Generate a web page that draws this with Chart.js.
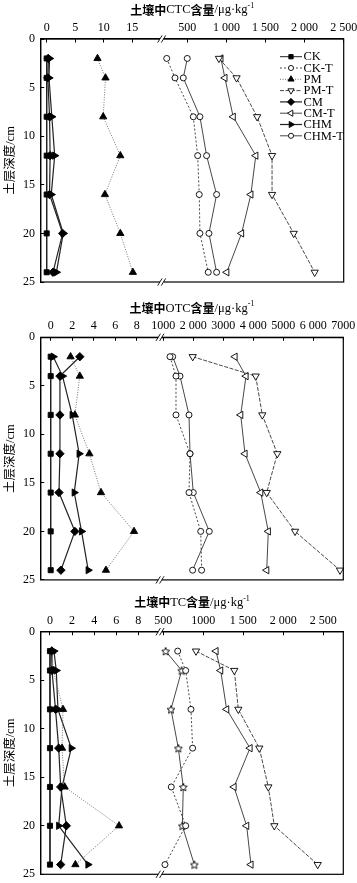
<!DOCTYPE html>
<html><head><meta charset="utf-8">
<script src="https://cdn.jsdelivr.net/npm/chart.js@4.4.0/dist/chart.umd.min.js"></script>
<style>
html,body{margin:0;padding:0;background:#fff;}
body{width:357px;height:883px;position:relative;overflow:hidden;}
canvas{position:absolute;left:0;}
</style></head><body>
<canvas id="c1" width="357" height="290" style="top:0px"></canvas>
<canvas id="c2" width="357" height="295" style="top:290px"></canvas>
<canvas id="c3" width="357" height="298" style="top:585px"></canvas>
<script>
// ---------------- data ----------------
const depths = [2, 4, 8, 12, 16, 20, 24];
const depthTicks = [0, 5, 10, 15, 20, 25];
const seriesNames = ['CK', 'CK-T', 'PM', 'PM-T', 'CM', 'CM-T', 'CHM', 'CHM-T'];

// 土壤中CTC含量
const ctcCK   = [0, 0, 0, 0, 0, 0, 0];
const ctcPM   = [8.9, 10.3, 9.9, 12.9, 10.2, 12.9, 15.1];
const ctcCM   = [0.3, 0.2, 0.5, 0.6, 0.5, 2.8, 1.1];
const ctcCHM  = [0.5, 0.4, 0.9, 1.4, 0.8, 2.9, 1.7];
const ctcCKT  = [237, 343, 577, 633, 653, 662, 768];
const ctcPMT  = [905, 1130, 1393, 1584, 1584, 1861, 2129];
const ctcCMT  = [930, 981, 1087, 1376, 1313, 1194, 1005];
const ctcCHMT = [500, 449, 662, 747, 875, 777, 875];
const ctcLeftTicks = [0, 5, 10, 15];
const ctcLeftLabels = ['0', '5', '10', '15'];
const ctcRightTicks = [500, 1000, 1500, 2000, 2500];
const ctcRightLabels = ['500', '1 000', '1 500', '2 000', '2 500'];

// 土壤中OTC含量
const otcCK   = [0, 0, 0, 0, 0, 0, 0];
const otcPM   = [1.85, 2.71, 2.25, 3.6, 4.68, 7.75, 5.14];
const otcCM   = [2.71, 0.86, 0.86, 0.86, 0.77, 2.25, 0.95];
const otcCHM  = [0.24, 1.1, 2.0, 2.65, 2.19, 2.87, 3.49];
const otcCKT  = [1223, 1423, 1423, 1890, 1857, 2247, 2277];
const otcPMT  = [1980, 4080, 4300, 4800, 4447, 5390, 6890];
const otcCMT  = [3390, 3757, 3580, 3723, 4247, 4500, 4447];
const otcCHMT = [1313, 1557, 1857, 1890, 2000, 2533, 1977];
const otcLeftTicks = [0, 2, 4, 6, 8];
const otcLeftLabels = ['0', '2', '4', '6', '8'];
const otcRightTicks = [1000, 2000, 3000, 4000, 5000, 6000, 7000];
const otcRightLabels = ['1000', '2 000', '3000', '4 000', '5000', '6 000', '7000'];

// 土壤中TC含量
const tcCK   = [0, 0, 0, 0, 0, 0, 0];
const tcPM   = [0.2, 0.3, 1.18, 1.09, 1.33, 6.25, 2.3];
const tcCM   = [0.15, 0.18, 0.5, 0.79, 0.97, 1.48, 0.97];
const tcCHM  = [0.36, 0.57, 0.72, 1.93, 1.09, 0.79, 3.44];
const tcCKT  = [680, 780, 846, 867, 600, 780, 521];
const tcPMT  = [909, 1388, 1438, 1700, 1813, 1888, 2430];
const tcCMT  = [1159, 1217, 1292, 1584, 1384, 1542, 1596];
const tcCHMT = [530, 730, 596, 688, 750, 738, 888];
const tcLeftTicks = [0, 2, 4, 6, 8];
const tcLeftLabels = ['0', '2', '4', '6', '8'];
const tcRightTicks = [500, 1000, 1500, 2000, 2500];
const tcRightLabels = ['500', '1000', '1 500', '2 000', '2 500'];

// ---------------- styles ----------------
const SERIF = '"Liberation Serif", "Times New Roman", serif';
const CJK = '"Noto Sans CJK SC", sans-serif';
const MIX = '"Liberation Serif", "Noto Sans CJK SC", serif';

function makeStar(r) {
  const s = Math.ceil(r * 2 + 3);
  const c = document.createElement('canvas');
  c.width = s; c.height = s;
  const g = c.getContext('2d');
  g.strokeStyle = '#000'; g.lineWidth = 0.9; g.fillStyle = '#fff';
  g.beginPath();
  for (let k = 0; k < 10; k++) {
    const rr = (k % 2) ? r * 0.45 : r;
    const ang = -Math.PI / 2 + k * Math.PI / 5;
    const px = s / 2 + rr * Math.cos(ang), py = s / 2 + 0.5 + rr * Math.sin(ang);
    if (k) g.lineTo(px, py); else g.moveTo(px, py);
  }
  g.closePath(); g.fill(); g.stroke();
  return c;
}
const starImg = makeStar(4.2);

const styles = {
  'CK':    {pointStyle: 'rect', radius: 3.6, fill: true, dash: [], width: 1.0, color: '#222'},
  'CK-T':  {pointStyle: 'circle', radius: 3, fill: false, dash: [2, 2], width: 0.9, color: '#333'},
  'PM':    {pointStyle: 'triangle', radius: 4.2, fill: true, dash: [1, 1.5], width: 0.9, color: '#666'},
  'PM-T':  {pointStyle: 'triangle', rotation: 180, radius: 4.2, fill: false, dash: [4, 1.5], width: 0.9, color: '#333'},
  'CM':    {pointStyle: 'rectRot', radius: 4.2, fill: true, dash: [], width: 1.2, color: '#222'},
  'CM-T':  {pointStyle: 'triangle', rotation: 270, radius: 4.2, fill: false, dash: [], width: 0.9, color: '#333'},
  'CHM':   {pointStyle: 'triangle', rotation: 90, radius: 4.2, fill: true, dash: [], width: 1.2, color: '#222'},
  'CHM-T': {pointStyle: 'circle', radius: 3, fill: false, dash: [], width: 0.9, color: '#333'}
};

function ds(name, vals, axis, override) {
  const s = Object.assign({}, styles[name], override || {});
  return {
    label: name,
    data: depths.map((d, i) => ({x: vals[i], y: d})),
    xAxisID: axis, yAxisID: 'y',
    borderColor: s.color, borderWidth: s.width, borderDash: s.dash,
    pointStyle: s.pointStyle, pointRotation: s.rotation || 0,
    pointRadius: s.radius, pointHoverRadius: s.radius,
    pointBackgroundColor: s.fill ? '#000' : '#fff',
    pointBorderColor: '#000', pointBorderWidth: 0.9,
    tension: 0, fill: false, clip: false
  };
}

// ---------------- decoration plugin ----------------
const decorPlugin = {
  id: 'decor',
  afterDraw(chart, args, opts) {
    const ctx = chart.ctx, a = chart.chartArea;
    ctx.save();
    ctx.setLineDash([]);
    ctx.strokeStyle = '#000';
    ctx.lineWidth = 1.2;
    ctx.strokeRect(a.left, a.top, a.right - a.left, a.bottom - a.top);
    // axis break marks
    const bx = chart.scales.xL.right;
    [a.top, a.bottom].forEach(y => {
      ctx.fillStyle = '#fff';
      ctx.fillRect(bx - 1.8, y - 1.5, 3.6, 3);
      ctx.lineWidth = 0.9;
      ctx.beginPath();
      [-1.8, 1.8].forEach(dx => {
        ctx.moveTo(bx + dx - 2.2, y + 3.6);
        ctx.lineTo(bx + dx + 2.2, y - 3.6);
      });
      ctx.stroke();
    });
    // x title
    const parts = opts.title || [];
    const fonts = {
      cjk: 'bold 12px ' + CJK,
      lat: '12.5px ' + SERIF,
      sup: '8px ' + SERIF
    };
    let total = 0;
    parts.forEach(p => { ctx.font = fonts[p[1]]; total += ctx.measureText(p[0]).width; });
    let x = (a.left + a.right) / 2 - total / 2;
    const ty = a.top - 29;
    ctx.fillStyle = '#000';
    ctx.textBaseline = 'middle';
    ctx.textAlign = 'left';
    parts.forEach(p => {
      ctx.font = fonts[p[1]];
      ctx.fillText(p[0], x, p[1] === 'sup' ? ty - 4 : ty);
      x += ctx.measureText(p[0]).width;
    });
    // legend
    if (opts.legend) {
      const dsets = chart.data.datasets;
      const draw = Chart.helpers && Chart.helpers.drawPoint;
      dsets.forEach((d, i) => {
        const s = styles[d.label];
        const y = 56.7 + 11.3 * i;
        ctx.strokeStyle = s.color;
        ctx.lineWidth = s.width;
        ctx.setLineDash(s.dash);
        ctx.beginPath(); ctx.moveTo(280, y); ctx.lineTo(302, y); ctx.stroke();
        ctx.setLineDash([]);
        ctx.strokeStyle = '#000';
        ctx.fillStyle = s.fill ? '#000' : '#fff';
        ctx.lineWidth = 0.9;
        if (draw) draw(ctx, {pointStyle: s.pointStyle, rotation: s.rotation || 0, radius: s.radius * 0.85, borderWidth: 0.9}, 291, y);
        ctx.fillStyle = '#000';
        ctx.font = '12.5px ' + SERIF;
        ctx.textBaseline = 'middle';
        ctx.fillText(d.label, 303.5, y + 0.5);
      });
    }
    ctx.restore();
  }
};

// ---------------- panel builder ----------------
const W = 357;
function buildPanel(id, p) {
  const tickFont = {family: SERIF, size: 12};
  const xAxis = (min, max, ticks, labels, weight) => ({
    type: 'linear', position: 'top', stack: 'x', stackWeight: weight,
    min: min, max: max,
    afterBuildTicks: s => { s.ticks = ticks.map(v => ({value: v})); },
    afterFit: s => { s.height = p.top; s.paddingLeft = 0; s.paddingRight = 0; s.paddingTop = 0; s.paddingBottom = 0; },
    ticks: {autoSkip: false, maxRotation: 0, minRotation: 0, padding: 7.3, color: '#000', font: tickFont,
            callback: (v, i) => labels[i]},
    grid: {display: true, drawOnChartArea: false, drawTicks: true, tickLength: -3.5, color: '#000', lineWidth: 1},
    border: {display: true, color: '#000', width: 1.2}
  });
  return new Chart(document.getElementById(id), {
    type: 'line',
    data: {datasets: p.datasets},
    options: {
      responsive: false, animation: false, devicePixelRatio: 1, events: [], indexAxis: 'y',
      layout: {padding: {left: 0, top: 0, right: W - p.right, bottom: p.h - p.bottom}},
      plugins: {legend: {display: false}, tooltip: {enabled: false},
                decor: {title: p.title, legend: !!p.legend}},
      scales: {
        y: {
          type: 'linear', position: 'left', reverse: true, min: 0, max: 25,
          afterBuildTicks: s => { s.ticks = depthTicks.map(v => ({value: v})); },
          afterFit: s => { s.width = p.left; s.paddingLeft = 0; s.paddingRight = 0; s.paddingTop = 0; s.paddingBottom = 0; },
          ticks: {padding: 9.2, color: '#000', font: tickFont, callback: v => String(v)},
          grid: {display: true, drawOnChartArea: false, drawTicks: true, tickLength: -3.5, color: '#000', lineWidth: 1},
          border: {display: true, color: '#000', width: 1.2},
          title: {display: true, text: '土层深度/cm', color: '#000', font: {family: MIX, size: 12.5},
                  padding: {top: 3.5, bottom: 0}}
        },
        // declared right-first: stacked top boxes are placed in reverse declaration order
        xR: xAxis(p.xR[0], p.xR[1], p.xR[2], p.xR[3], p.right - p.brk),
        xL: xAxis(p.xL[0], p.xL[1], p.xL[2], p.xL[3], p.brk - p.left)
      }
    },
    plugins: [decorPlugin]
  });
}

function panelSets(ck, ckt, pm, pmt, cm, cmt, chm, chmt, chmtOverride) {
  return [
    ds('CK', ck, 'xL'), ds('CK-T', ckt, 'xR'),
    ds('PM', pm, 'xL'), ds('PM-T', pmt, 'xR'),
    ds('CM', cm, 'xL'), ds('CM-T', cmt, 'xR'),
    ds('CHM', chm, 'xL'), ds('CHM-T', chmt, 'xR', chmtOverride)
  ];
}

buildPanel('c1', {
  h: 290, top: 39, bottom: 282, left: 40.7, brk: 161.7, right: 343.7,
  xL: [-1.05, 20.15, ctcLeftTicks, ctcLeftLabels],
  xR: [173, 2500, ctcRightTicks, ctcRightLabels],
  title: [['土壤中', 'cjk'], ['CTC', 'lat'], ['含量', 'cjk'], ['/μg·kg', 'lat'], ['-1', 'sup']],
  legend: true,
  datasets: panelSets(ctcCK, ctcCKT, ctcPM, ctcPMT, ctcCM, ctcCMT, ctcCHM, ctcCHMT)
});

buildPanel('c2', {
  h: 295, top: 47.3, bottom: 290.3, left: 40.7, brk: 160, right: 343.3,
  xL: [-0.93, 10.17, otcLeftTicks, otcLeftLabels],
  xR: [890, 7000, otcRightTicks, otcRightLabels],
  title: [['土壤中', 'cjk'], ['OTC', 'lat'], ['含量', 'cjk'], ['/μg·kg', 'lat'], ['-1', 'sup']],
  datasets: panelSets(otcCK, otcCKT, otcPM, otcPMT, otcCM, otcCMT, otcCHM, otcCHMT)
});

buildPanel('c3', {
  h: 298, top: 46.7, bottom: 289.3, left: 40.7, brk: 160, right: 343.3,
  xL: [-0.84, 9.96, tcLeftTicks, tcLeftLabels],
  xR: [459, 2750, tcRightTicks, tcRightLabels],
  title: [['土壤中', 'cjk'], ['TC', 'lat'], ['含量', 'cjk'], ['/μg·kg', 'lat'], ['-1', 'sup']],
  datasets: panelSets(tcCK, tcCKT, tcPM, tcPMT, tcCM, tcCMT, tcCHM, tcCHMT, {pointStyle: starImg})
});
</script>
</body></html>
